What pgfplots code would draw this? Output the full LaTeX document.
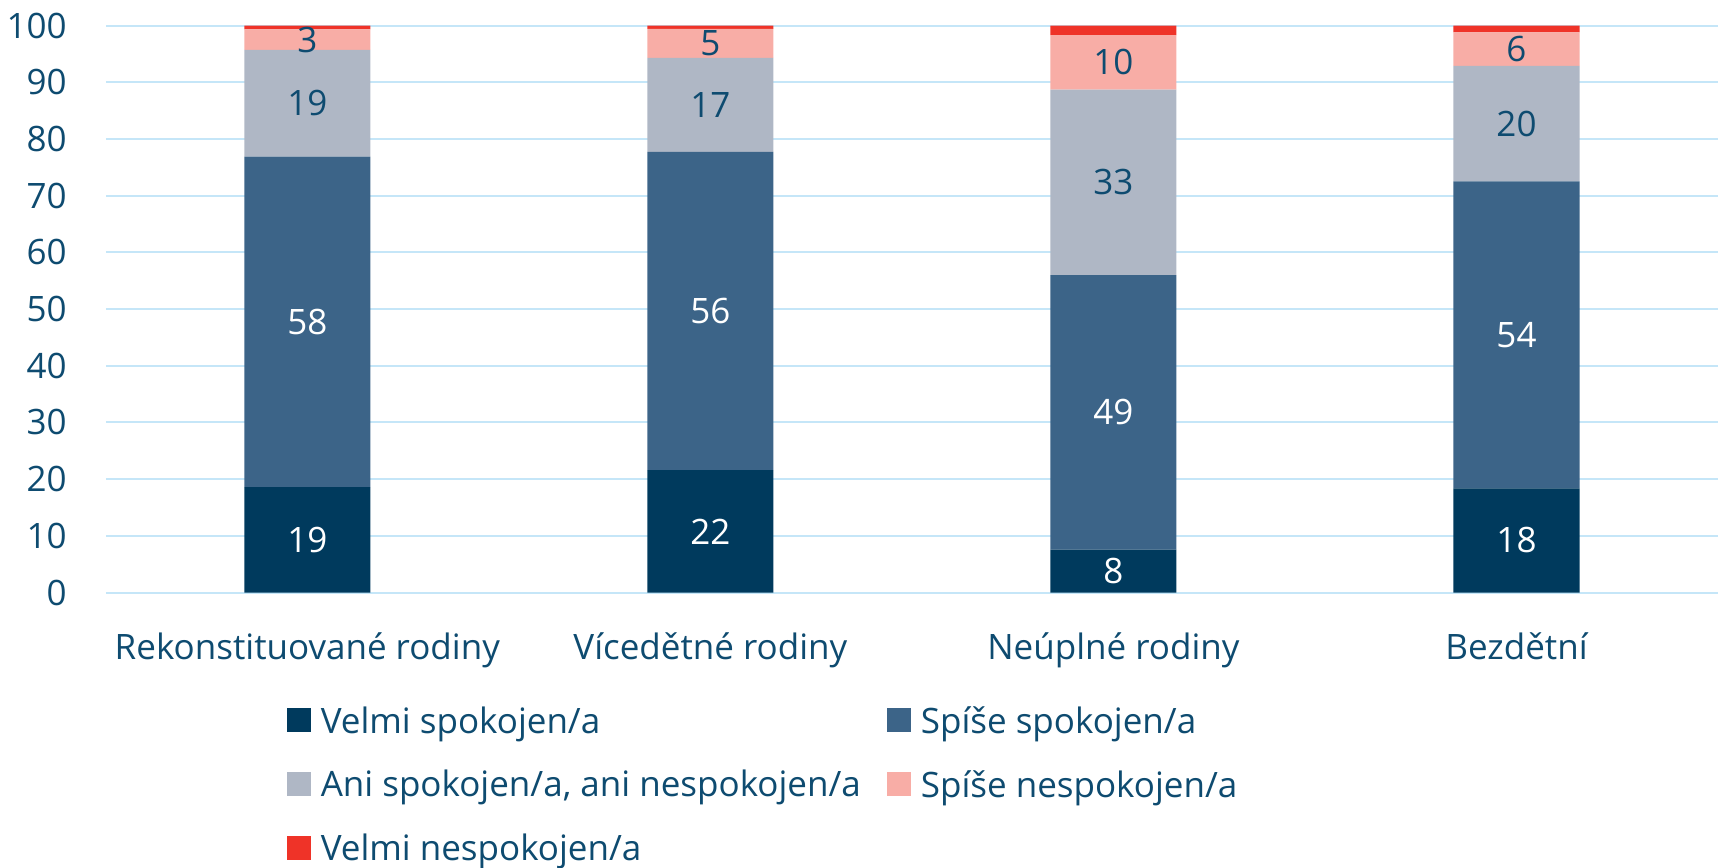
\documentclass[border=0pt]{standalone}
\usepackage{fontspec}
\setmainfont{Open Sans}
\usepackage{pgfplots}
\pgfplotsset{compat=1.18}
\definecolor{txt}{RGB}{14,75,112}
\definecolor{c1}{RGB}{0,58,93}
\definecolor{c2}{RGB}{60,100,136}
\definecolor{c3}{RGB}{175,183,197}
\definecolor{c4}{RGB}{248,173,166}
\definecolor{c5}{RGB}{239,51,40}
\definecolor{gridc}{RGB}{197,230,248}
\begin{document}
\begin{tikzpicture}
\begin{axis}[
  scale only axis, width=806pt, height=283.5pt,
  ybar stacked, bar width=63pt,
  xmin=-0.5, xmax=3.5, ymin=0, ymax=100,
  xtick={0,1,2,3},
  xticklabels={Rekonstituované rodiny,Vícedětné rodiny,Neúplné rodiny,Bezdětní},
  ytick={0,10,...,100},
  axis line style={draw=none},
  major tick style={draw=none},
  ymajorgrids,
  major grid style={gridc, line width=1pt},
  tick label style={text=txt, font=\fontsize{17.5}{21}\selectfont},
  /pgf/number format/assume math mode=true,
  yticklabel style={xshift=-16pt},
  xticklabel style={yshift=-16.5pt},
  point meta=explicit symbolic,
  nodes near coords={\pgfplotspointmeta},
  every node near coord/.append style={font=\fontsize{17.5}{21}\selectfont, text=txt},
  legend columns=2,
  legend cell align=left,
  legend style={draw=none, at={(0.112,-0.193)}, anchor=north west, text=txt,
    inner sep=0pt, font=\fontsize{17.5}{21}\selectfont, column sep=3pt, row sep=13pt,
    /tikz/every even column/.append style={column sep=11pt}},
  legend image code/.code={\fill[#1] (0pt,-5.5pt) rectangle (12pt,6.5pt);},
]
% Velmi spokojen/a
\addplot[fill=c1, draw=none, every node near coord/.append style={text=white}]
  coordinates {(0,18.6) [19] (1,21.6) [22] (2,7.6) [8] (3,18.4) [18]};
% Spíše spokojen/a
\addplot[fill=c2, draw=none, every node near coord/.append style={text=white}]
  coordinates {(0,58.3) [58] (1,56.1) [56] (2,48.4) [49] (3,54.1) [54]};
% Ani spokojen/a, ani nespokojen/a
\addplot[fill=c3, draw=none]
  coordinates {(0,18.8) [19] (1,16.6) [17] (2,32.7) [33] (3,20.4) [20]};
% Spíše nespokojen/a
\addplot[fill=c4, draw=none]
  coordinates {(0,3.6) [3] (1,5.1) [5] (2,9.6) [10] (3,5.9) [6]};
% Velmi nespokojen/a
\addplot[fill=c5, draw=none]
  coordinates {(0,0.7) [] (1,0.6) [] (2,1.7) [] (3,1.2) []};
\legend{Velmi spokojen/a,Spíše spokojen/a,{Ani spokojen/a, ani nespokojen/a},Spíše nespokojen/a,Velmi nespokojen/a}
\end{axis}
\path ([yshift=3pt]current bounding box.north) circle (0pt);
\end{tikzpicture}
\end{document}
